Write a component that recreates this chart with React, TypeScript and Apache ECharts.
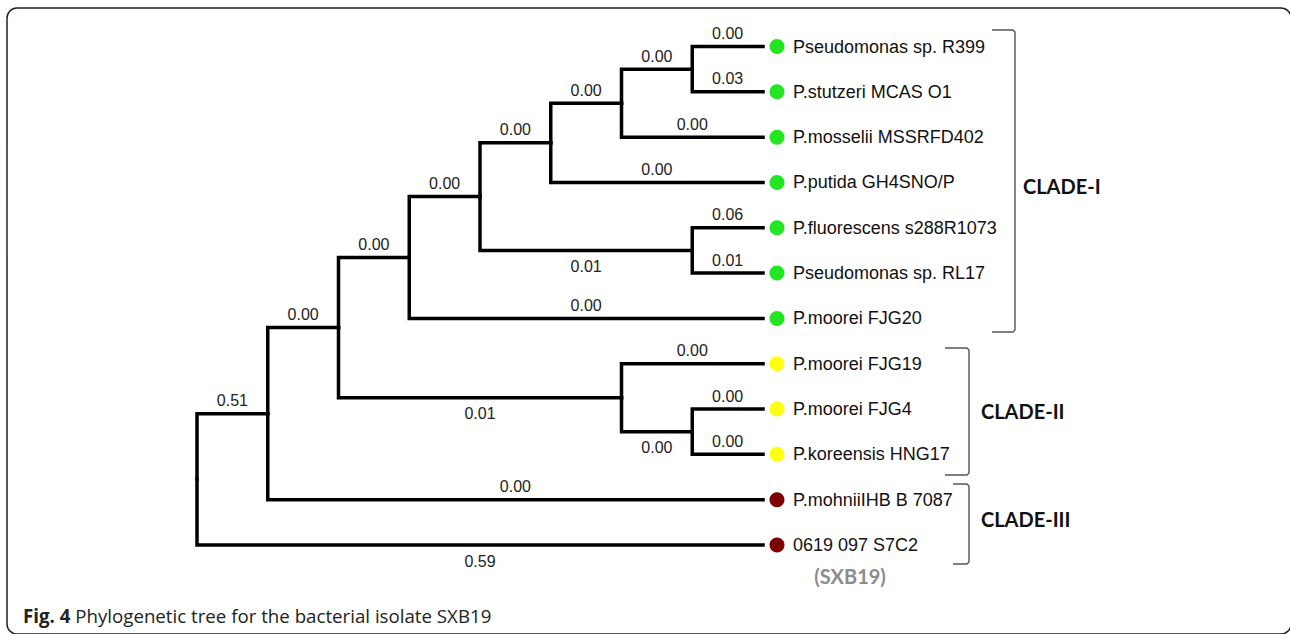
import React, { useEffect, useRef } from "react";
import * as echarts from "echarts";

// ---- Data ----
const leafNames = [
  "Pseudomonas sp. R399",
  "P.stutzeri MCAS O1",
  "P.mosselii MSSRFD402",
  "P.putida GH4SNO/P",
  "P.fluorescens s288R1073",
  "Pseudomonas sp. RL17",
  "P.moorei FJG20",
  "P.moorei FJG19",
  "P.moorei FJG4",
  "P.koreensis HNG17",
  "P.mohniiIHB B 7087",
  "0619 097 S7C2",
];
const leafClade = [0, 0, 0, 0, 0, 0, 0, 1, 1, 1, 2, 2];
const cladeNames = ["CLADE-I", "CLADE-II", "CLADE-III"];
const cladeColors = ["#22e622", "#ffff10", "#7d0000"];

// internal nodes and their depth (cladogram level)
const nodeNames = ["root", "A", "B", "C", "D", "E", "F", "G", "H", "I", "J"];
const nodeDepth = [0, 1, 2, 3, 6, 4, 5, 7, 6, 7, 7];
const TIP_DEPTH = 8;

// branches: parent, child (L# = leaf index), label, label below line (1) or above (0)
const branchParent = ["root", "root", "A", "A", "B", "B", "C", "C", "E", "E", "F", "F", "H", "H", "I", "I", "G", "G", "D", "D", "J", "J"];
const branchChild = ["A", "L11", "B", "L10", "C", "D", "E", "L6", "F", "G", "H", "L3", "I", "L2", "L0", "L1", "L4", "L5", "L7", "J", "L8", "L9"];
const branchLabel = ["0.51", "0.59", "0.00", "0.00", "0.00", "0.01", "0.00", "0.00", "0.00", "0.01", "0.00", "0.00", "0.00", "0.00", "0.00", "0.03", "0.06", "0.01", "0.00", "0.00", "0.00", "0.00"];
const branchBelow = [0, 1, 0, 0, 0, 1, 0, 0, 0, 1, 0, 0, 0, 0, 0, 0, 0, 0, 0, 1, 0, 0];

// ---- layout computation (tree positions from topology) ----
function computeLayout() {
  const pos: Record<string, [number, number]> = {};
  leafNames.forEach((_, i) => (pos["L" + i] = [TIP_DEPTH, i]));
  const children: Record<string, string[]> = {};
  branchParent.forEach((p, i) => {
    (children[p] = children[p] || []).push(branchChild[i]);
  });
  const resolve = (id: string): [number, number] => {
    if (pos[id]) return pos[id];
    const ys = children[id].map((c) => resolve(c)[1]);
    const y = ys.reduce((a, b) => a + b, 0) / ys.length;
    pos[id] = [nodeDepth[nodeNames.indexOf(id)], y];
    return pos[id];
  };
  resolve("root");
  return pos;
}

export default function App() {
  const ref = useRef<HTMLDivElement>(null);
  useEffect(() => {
    if (!ref.current) return;
    const chart = echarts.init(ref.current, undefined, { renderer: "svg" });
    const pos = computeLayout();

    const branchData = branchParent.map((p, i) => {
      const a = pos[p];
      const b = pos[branchChild[i]];
      return [a[0], a[1], b[0], b[1], i];
    });
    const leafData = leafNames.map((_, i) => [TIP_DEPTH, i, i]);

    const bracket = (pts: number[][]) => ({
      type: "polyline",
      shape: { points: pts },
      style: { stroke: "#555", lineWidth: 1.4, fill: null },
      silent: true,
    });

    chart.setOption({
      animation: false,
      backgroundColor: "#ffffff",
      grid: { left: 197, right: 527, top: 46.5, bottom: 89 },
      xAxis: { type: "value", min: 0, max: TIP_DEPTH, show: false },
      yAxis: { type: "value", min: 0, max: leafNames.length - 1, inverse: true, show: false },
      series: [
        {
          type: "custom",
          coordinateSystem: "cartesian2d",
          data: branchData,
          renderItem: (params: any, api: any) => {
            const p = api.coord([api.value(0), api.value(1)]);
            const c = api.coord([api.value(2), api.value(3)]);
            const idx = api.value(4);
            const below = branchBelow[idx] === 1;
            return {
              type: "group",
              children: [
                {
                  type: "polyline",
                  shape: { points: [[p[0], p[1]], [p[0], c[1]], [c[0], c[1]]] },
                  style: { stroke: "#000", lineWidth: 3.5, fill: null, lineJoin: "miter", lineCap: "square" },
                },
                {
                  type: "text",
                  x: (p[0] + c[0]) / 2,
                  y: c[1] + (below ? 16 : -13),
                  style: {
                    text: branchLabel[idx],
                    align: "center",
                    verticalAlign: "middle",
                    fontFamily: "Liberation Sans",
                    fontSize: 16,
                    fill: "#222",
                  },
                },
              ],
            };
          },
        },
        {
          type: "custom",
          coordinateSystem: "cartesian2d",
          data: leafData,
          renderItem: (params: any, api: any) => {
            const pt = api.coord([api.value(0), api.value(1)]);
            const i = api.value(2);
            return {
              type: "group",
              children: [
                {
                  type: "circle",
                  shape: { cx: pt[0] + 14, cy: pt[1], r: 7.5 },
                  style: { fill: cladeColors[leafClade[i]] },
                },
                {
                  type: "text",
                  x: pt[0] + 30,
                  y: pt[1],
                  style: {
                    text: leafNames[i],
                    align: "left",
                    verticalAlign: "middle",
                    fontFamily: "Liberation Sans",
                    fontSize: 18,
                    fill: "#111",
                  },
                },
              ],
            };
          },
        },
      ],
      graphic: [
        {
          type: "rect",
          shape: { x: 7, y: 8, width: 1284, height: 626, r: 10 },
          style: { fill: null, stroke: "#222", lineWidth: 1.5 },
          silent: true,
        },
        bracket([[992, 30], [1013, 30], [1015, 32], [1015, 330], [1013, 332], [992, 332]]),
        bracket([[945, 348], [967, 348], [969, 350], [969, 473], [967, 475], [945, 475]]),
        bracket([[953, 484], [967, 484], [969, 486], [969, 562], [967, 564], [953, 564]]),
        {
          type: "text",
          x: 1023,
          y: 186,
          style: { text: cladeNames[0], fontFamily: "Lato", fontWeight: "bold", fontSize: 20, fill: "#111", verticalAlign: "middle" },
        },
        {
          type: "text",
          x: 981,
          y: 411,
          style: { text: cladeNames[1], fontFamily: "Lato", fontWeight: "bold", fontSize: 20, fill: "#111", verticalAlign: "middle" },
        },
        {
          type: "text",
          x: 981,
          y: 519,
          style: { text: cladeNames[2], fontFamily: "Lato", fontWeight: "bold", fontSize: 20, fill: "#111", verticalAlign: "middle" },
        },
        {
          type: "text",
          x: 850,
          y: 576,
          style: { text: "(SXB19)", align: "center", verticalAlign: "middle", fontFamily: "Lato", fontWeight: "bold", fontSize: 20, fill: "#8c8c8c" },
        },
        {
          type: "text",
          x: 23,
          y: 615,
          style: {
            text: "{b|Fig. 4} Phylogenetic tree for the bacterial isolate SXB19",
            verticalAlign: "middle",
            fontFamily: "Open Sans",
            fontSize: 18.7,
            fill: "#222",
            rich: { b: { fontFamily: "Open Sans", fontWeight: "bold", fontSize: 18.7, fill: "#222" } },
          },
        },
      ],
    });
    return () => chart.dispose();
  }, []);
  return (
    <div
      ref={ref}
      style={{ position: "fixed", left: 0, top: 0, width: 1290, height: 634, background: "#fff" }}
    />
  );
}
